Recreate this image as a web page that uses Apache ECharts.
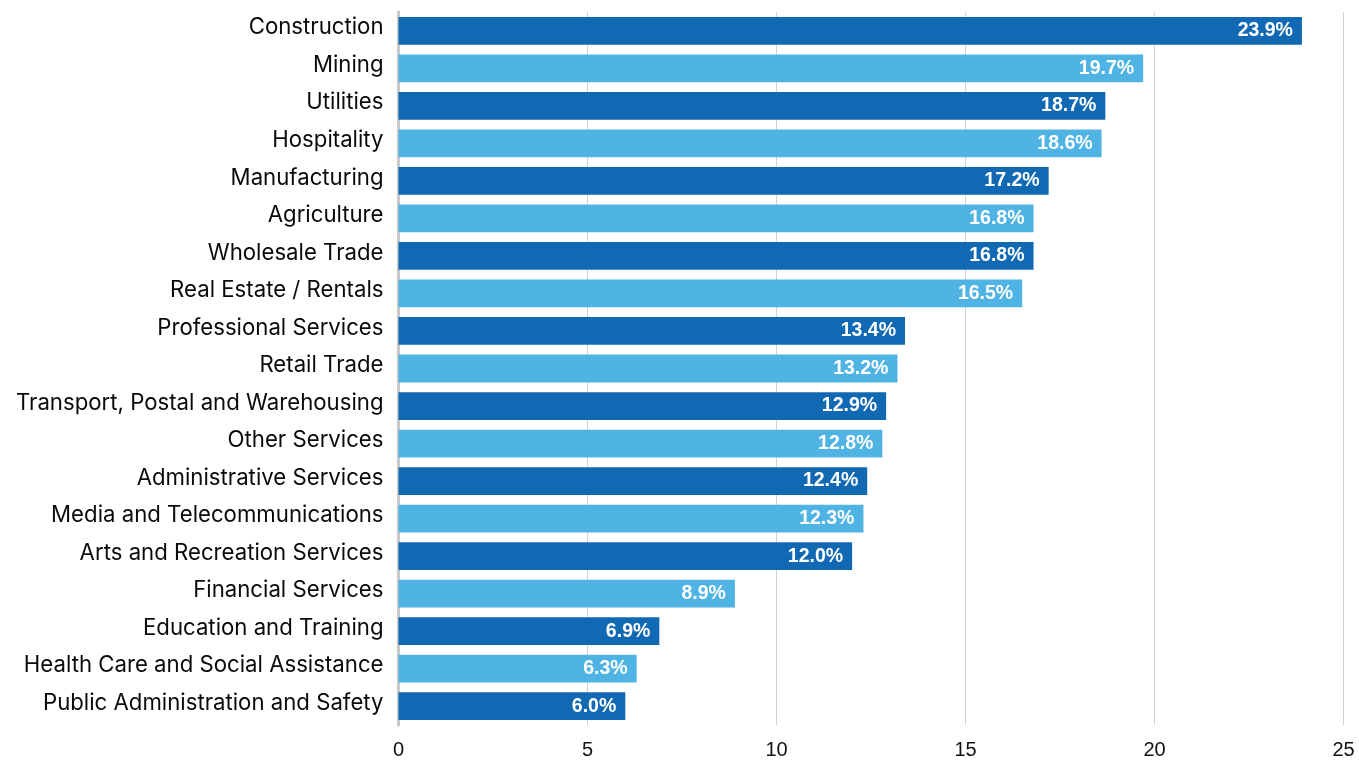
<!DOCTYPE html>
<html>
<head>
<meta charset="utf-8">
<script src="https://cdn.jsdelivr.net/npm/echarts@6/dist/echarts.min.js"></script>
<style>
  html, body { margin: 0; padding: 0; background: #ffffff; }
  #chart { width: 1359px; height: 760px; }
</style>
</head>
<body>
<div id="chart"></div>
<script>
// Industries, listed top to bottom
const industries = [
  'Construction', 'Mining', 'Utilities', 'Hospitality', 'Manufacturing',
  'Agriculture', 'Wholesale Trade', 'Real Estate / Rentals', 'Professional Services',
  'Retail Trade', 'Transport, Postal and Warehousing', 'Other Services',
  'Administrative Services', 'Media and Telecommunications', 'Arts and Recreation Services',
  'Financial Services', 'Education and Training', 'Health Care and Social Assistance',
  'Public Administration and Safety'
];
// Share per industry (%)
const shares = [23.9, 19.7, 18.7, 18.6, 17.2, 16.8, 16.8, 16.5, 13.4, 13.2, 12.9, 12.8, 12.4, 12.3, 12.0, 8.9, 6.9, 6.3, 6.0];
// Value axis ticks
const axisMin = 0, axisMax = 25, axisStep = 5;

const darkBlue = '#1169b4';
const lightBlue = '#4fb4e4';
const catFont = 'Inter, "Liberation Sans", Arial, sans-serif';
const valFont = '"Liberation Sans", Arial, Helvetica, sans-serif';

// Size the industry names so the longest one fills the left margin
function fitFontSize(family, texts, targetWidth) {
  const ctx = document.createElement('canvas').getContext('2d');
  ctx.font = '20px ' + family;
  const widest = Math.max(...texts.map(t => ctx.measureText(t).width));
  return Math.round(20 * targetWidth / widest * 10) / 10;
}
const catSize = Math.min(23, fitFontSize(catFont, industries, 368));

const chart = echarts.init(document.getElementById('chart'), null, { renderer: 'canvas' });
chart.setOption({
  animation: false,
  backgroundColor: '#ffffff',
  grid: { left: 398.5, right: 15.5, top: 12, bottom: 32, containLabel: false },
  xAxis: {
    type: 'value',
    min: axisMin, max: axisMax, interval: axisStep,
    axisLine: { show: false },
    axisTick: { show: false },
    splitLine: { show: true, lineStyle: { color: '#d2d2d2', width: 1 } },
    axisLabel: { color: '#111111', fontSize: 20, fontFamily: valFont, margin: 15 }
  },
  yAxis: {
    type: 'category',
    inverse: true,
    data: industries,
    axisLine: { show: true, lineStyle: { color: '#c8c8c8', width: 3 } },
    axisTick: { show: false },
    axisLabel: {
      margin: 15,
      formatter: v => '{n|' + v + '}',
      rich: {
        n: {
          color: '#0a0a0a', fontSize: catSize, fontFamily: catFont,
          padding: [0, 0, 6, 0]
        }
      }
    }
  },
  series: [{
    type: 'bar',
    data: shares.map((v, i) => ({
      value: v,
      itemStyle: { color: i % 2 === 0 ? darkBlue : lightBlue }
    })),
    barCategoryGap: '26%',
    label: {
      show: true,
      position: 'insideRight',
      distance: 9,
      color: '#ffffff',
      fontWeight: 'bold',
      fontSize: 19.5,
      fontFamily: valFont,
      padding: [4, 0, 0, 0],
      formatter: p => p.value.toFixed(1) + '%'
    }
  }]
});
</script>
</body>
</html>
